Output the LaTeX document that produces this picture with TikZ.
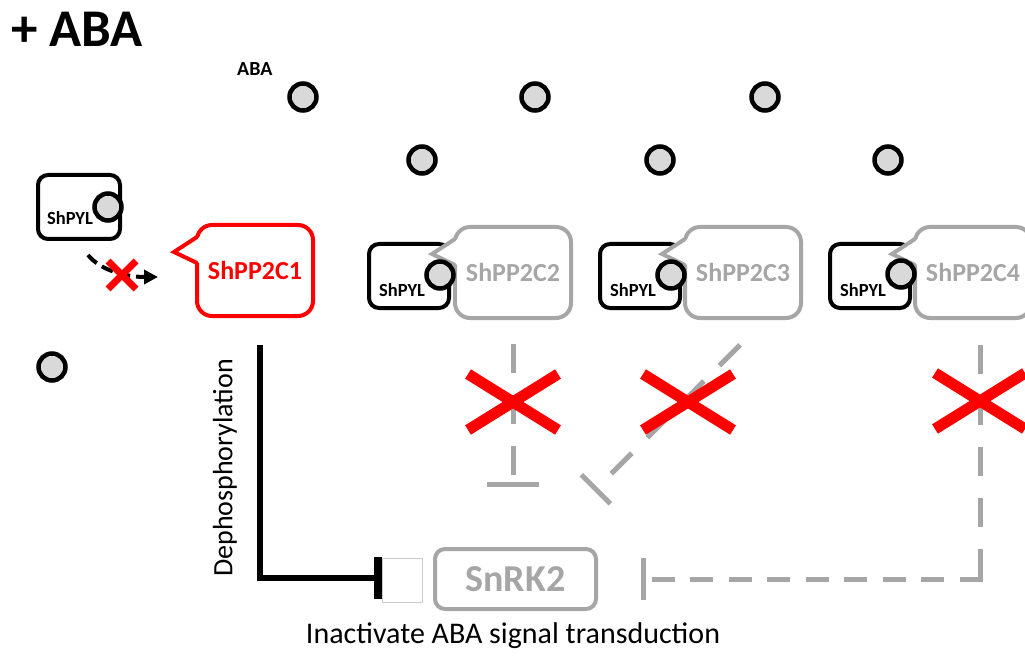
\documentclass[tikz,border=0pt]{standalone}
\usepackage{fontspec}
\setmainfont{Carlito}
\usetikzlibrary{arrows.meta,calc}
\definecolor{pgray}{HTML}{A6A6A6}
\definecolor{abafill}{HTML}{D9D9D9}
\definecolor{pred}{HTML}{FF0000}
\definecolor{faint}{HTML}{CCCCCC}
% callout: #1 name, #2 left x, #3 top y, #4 colour, #5 label
\newcommand\pcall[5]{%
  \node[callbox,draw=#4,text=#4,anchor=north west] (#1) at (#2,#3) {#5};
  \coordinate (#1tip) at (#2-23,#3+27);
  \fill[white] (#1tip) -- (#2+3,#3+12) -- (#2+3,#3+38) -- cycle;
  \draw[#4,line width=4pt,line join=miter] (#2,#3+12) -- (#1tip) -- (#2,#3+38);
}
\begin{document}
\begin{tikzpicture}[x=1pt,y=-1pt,
  aba/.style={circle,draw=black,line width=4.5pt,fill=abafill,minimum size=27pt,inner sep=0pt},
  pylbox/.style={draw=black,line width=4pt,rounded corners=10pt,minimum width=80pt,minimum height=64pt,inner sep=0pt,outer sep=0pt,fill=white},
  pyltext/.style={font=\bfseries\fontsize{18.5}{20}\selectfont,inner sep=0pt},
  callbox/.style={rectangle,rounded corners=15pt,minimum width=116pt,minimum height=91pt,line width=4pt,fill=white,inner sep=0pt,outer sep=0pt,font=\bfseries\fontsize{26}{30}\selectfont},
  gdash/.style={draw=pgray,line width=5pt,dash pattern=on 29pt off 22pt},
  bigx/.pic={\draw[pred,line width=11pt] (-45,-28) -- (45,28) (-45,28) -- (45,-28);},
  smallx/.pic={\draw[pred,line width=7pt] (-14,-14) -- (14,14) (-14,14) -- (14,-14);}
]
\useasboundingbox (0,0) rectangle (1025,660);
\fill[white] (0,0) rectangle (1025,660);
\clip (0,0) rectangle (1025,660);

% title and label
\node[anchor=base west,inner sep=0pt,font=\bfseries\fontsize{53}{58}\selectfont] (title) at (11,47) {+ ABA};
\node[anchor=base west,inner sep=0pt,font=\bfseries\fontsize{20}{22}\selectfont] (abalbl) at (237,76) {ABA};

% free ABA molecules
\node[aba] (m1) at (303,97) {};
\node[aba] (m2) at (535,97) {};
\node[aba] (m3) at (765,97) {};
\node[aba] (m4) at (422,160) {};
\node[aba] (m5) at (660,160) {};
\node[aba] (m6) at (888,160) {};
\node[aba] (m7) at (52,367) {};

% left ShPYL
\node[pylbox,minimum width=82pt] (pyl0) at (79,207) {};
\node[aba] (b0) at (108,207) {};
\node[pyltext] (pyl0t) at (70,218) {ShPYL};

% ShPP2C1
\pcall{c1}{197}{225}{pred}{ShPP2C1}

% dashed arrow with X
\coordinate (arr0) at (88,255);
\coordinate (arr1) at (158,277);
\draw[line width=4pt,dash pattern=on 12pt off 6pt,-{Triangle[length=14pt,width=14pt]}] (arr0) .. controls (100,270) and (125,277) .. (arr1);
\pic at (122,275) {smallx};

% groups
\node[pylbox] (pyl2) at (409,276) {};
\pcall{c2}{455}{227}{pgray}{ShPP2C2}
\node[aba] (b2) at (440,275) {};
\node[pyltext] (pyl2t) at (402,290) {ShPYL};

\node[pylbox] (pyl3) at (640,276) {};
\pcall{c3}{685}{227}{pgray}{ShPP2C3}
\node[aba] (b3) at (671,275) {};
\node[pyltext] (pyl3t) at (633,290) {ShPYL};

\node[pylbox] (pyl4) at (870,276) {};
\pcall{c4}{915}{227}{pgray}{ShPP2C4}
\node[aba] (b4) at (901,274) {};
\node[pyltext] (pyl4t) at (863,290) {ShPYL};

% SnRK2 and ghost box
\node[draw=faint,line width=0.75pt,minimum width=40pt,minimum height=44pt,inner sep=0pt] (ghost) at (402,580) {};
\node[draw=pgray,line width=4pt,rounded corners=10pt,minimum width=161pt,minimum height=60pt,text=pgray,font=\bfseries\fontsize{38}{40}\selectfont,inner sep=0pt] (snrk) at (515.5,579) {SnRK2};

% solid inhibition
\coordinate (k0) at (260,345);
\coordinate (k1) at (260,578);
\coordinate (k2) at (382,578);
\draw[line width=6pt,line join=miter,-{Bar[width=42pt,line width=8pt]}] (k0) -- (k1) -- (k2);
\node[rotate=90,inner sep=0pt,font=\fontsize{28}{30}\selectfont] (dephos) at (225,468) {Dephosphorylation};

% dashed inhibitions
\coordinate (d2s) at (513,344);
\coordinate (d2e) at (513,487);
\draw[gdash,-{Bar[width=52pt]}] (d2s) -- (d2e);
\coordinate (d3s) at (740,345);
\coordinate (d3e) at (594,491);
\draw[gdash,-{Bar[width=41pt]}] (d3s) -- (d3e);
\coordinate (r0) at (980,345);
\coordinate (r1) at (980,581);
\coordinate (r2) at (982.5,579);
\coordinate (r3) at (641,579);
\draw[gdash] (r0) -- (r1);
\draw[draw=pgray,line width=5pt,dash pattern=on 23pt off 15.5pt,-{Bar[width=42pt]}] (r2) -- (r3);

% red crosses
\pic at (513,402) {bigx};
\pic at (688,402) {bigx};
\pic at (980,401) {bigx};

% caption
\node[anchor=base,inner sep=0pt,font=\fontsize{30}{32}\selectfont] (inact) at (513,643) {Inactivate ABA signal transduction};
\end{tikzpicture}
\end{document}
